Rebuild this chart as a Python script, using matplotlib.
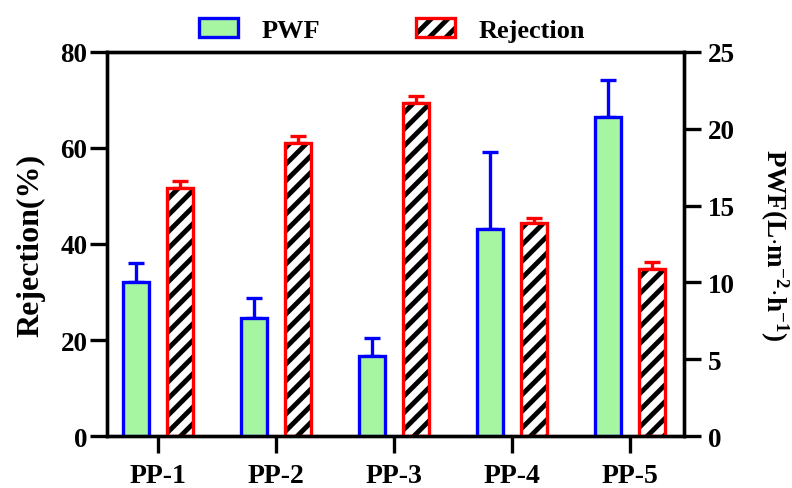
import numpy as np
import matplotlib
matplotlib.use("Agg")
import matplotlib.pyplot as plt
from matplotlib.patches import Patch
from matplotlib.legend_handler import HandlerTuple

plt.rcParams['font.family'] = ['Liberation Serif', 'DejaVu Serif']
plt.rcParams['font.weight'] = 'bold'
plt.rcParams['mathtext.fontset'] = 'custom'
plt.rcParams['mathtext.rm'] = 'Liberation Serif:bold'
plt.rcParams['mathtext.it'] = 'Liberation Serif:bold'
plt.rcParams['hatch.linewidth'] = 3.5

# data
samples = ['PP-1', 'PP-2', 'PP-3', 'PP-4', 'PP-5']
pwf = [10.0, 7.66, 5.23, 13.48, 20.75]
pwf_err = [1.24, 1.30, 1.15, 5.02, 2.43]
rejection = [51.6, 61.0, 69.4, 44.4, 34.8]
rejection_err = [1.6, 1.4, 1.3, 1.0, 1.4]

x = np.arange(len(samples))
w = 0.22
off = 0.185
green = '#a6f5a0'
lw = 2.4

fig = plt.figure(figsize=(7.92, 4.89), dpi=100)
ax = fig.add_axes([0.135, 0.106, 0.729, 0.786])
ax2 = ax.twinx()

# Rejection on left axis: black hatch, red outline
ax.bar(x + off, rejection, w, color='white', edgecolor='black', linewidth=0,
       hatch='//', zorder=2)
ax.bar(x + off, rejection, w, fill=False, edgecolor='red', linewidth=lw, zorder=3)
ax.errorbar(x + off, rejection, yerr=[np.zeros(5), rejection_err], fmt='none',
            ecolor='red', elinewidth=lw, capsize=5.5, capthick=lw, zorder=1)

# PWF on right axis
ax2.bar(x - off, pwf, w, color=green, edgecolor='blue', linewidth=lw, zorder=2)
ax2.errorbar(x - off, pwf, yerr=[np.zeros(5), pwf_err], fmt='none',
             ecolor='blue', elinewidth=lw, capsize=5.5, capthick=lw, zorder=1)

ax.set_xlim(-0.43, 4.46)
ax.set_ylim(0, 80)
ax2.set_ylim(0, 25)
ax.set_yticks([0, 20, 40, 60, 80])
ax2.set_yticks([0, 5, 10, 15, 20, 25])
ax.set_xticks(x)
ax.set_xticklabels(samples)

for a in (ax, ax2):
    for s in a.spines.values():
        s.set_linewidth(lw)
    a.tick_params(width=lw, length=12, labelsize=19.5, pad=2)
ax2.tick_params(pad=5)
ax.tick_params(axis='x', labelsize=20, pad=7)

ax.set_ylabel('Rejection(%)', fontsize=23, fontweight='bold', labelpad=11)
ax2.set_ylabel(r'PWF(L$\cdot$m$^{-2}$$\cdot$h$^{-1}$)', fontsize=19.5,
               fontweight='bold', rotation=270, labelpad=40)

h_pwf = Patch(facecolor=green, edgecolor='blue', linewidth=lw)
h_rej = (Patch(facecolor='white', edgecolor='black', linewidth=0, hatch='//'),
         Patch(fill=False, edgecolor='red', linewidth=lw))
fig.legend(handles=[h_pwf, h_rej], labels=['PWF', 'Rejection'],
           handler_map={tuple: HandlerTuple(ndivide=1)},
           loc='upper center', bbox_to_anchor=(0.495, 1.01), ncol=2,
           frameon=False, fontsize=19, handlelength=1.5, handleheight=0.75,
           columnspacing=3.6, handletextpad=0.9)

fig.savefig('out.png', dpi=100)
